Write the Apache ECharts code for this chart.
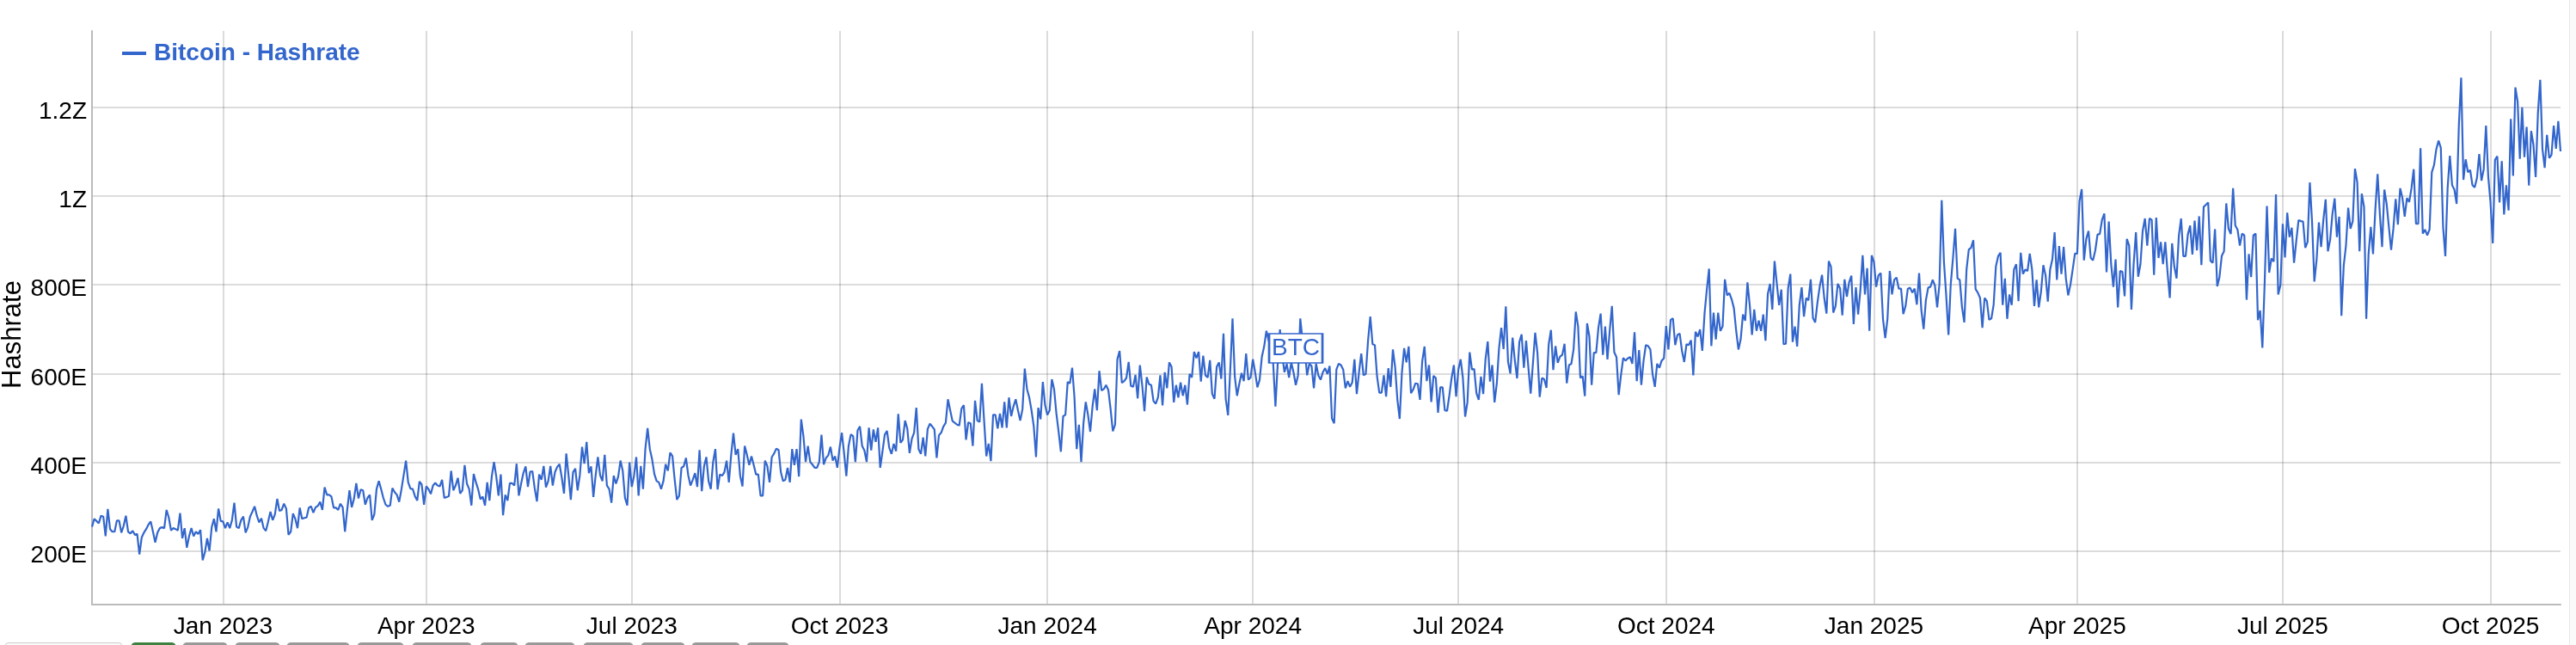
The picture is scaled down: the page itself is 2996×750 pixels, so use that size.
<!DOCTYPE html>
<html>
<head>
<meta charset="utf-8">
<title>Bitcoin - Hashrate</title>
<script src="https://cdn.jsdelivr.net/npm/echarts@6/dist/echarts.min.js"></script>
<style>html,body{margin:0;padding:0;background:#fff}#c{width:2996px;height:750px}</style>
</head>
<body>
<div id="c"></div>
<script>
// Daily hashrate in exahashes per second.
const startDay = '2022-11-04';
const nov2022toFeb2023 = [
255,273,268,263,280,278,234,295,250,244,
244,269,269,242,257,280,244,240,246,237,
239,193,231,242,250,260,267,244,220,242,
252,254,252,293,276,247,252,250,247,286,
229,252,208,234,252,234,244,239,248,180,
198,229,201,254,273,244,296,268,267,252,
265,252,270,309,255,252,270,278,242,254,
278,289,301,280,265,274,252,246,267,289,
270,283,318,291,293,307,296,237,244,285,
273,252,298,273,275,276,298,301,287,299,
302,311,293,344,327,327,323,298,298,293,
307,299,244,293,337,299,318,353,319,339,
337,305,320,327,270,283,340,358,340,320,
305,301,303,342,333,327,311,339,371,404,
355,341,340,324,314,357,350,305,346,340,
329,348,354,348,346,361,320];
const apr2023toSep2023 = [
322,324,381,337,348,365,330,337,394,352,
340,303,374,355,339,317,323,303,355,314,
368,401,368,325,373,281,327,314,353,353,
348,397,325,352,376,391,345,379,380,342,
312,373,361,392,344,358,392,348,378,390,
396,366,330,420,371,316,378,386,337,371,
435,397,446,376,391,322,371,412,371,358,
417,348,340,309,370,352,368,404,381,320,
303,400,345,370,412,325,392,340,430,477,
430,407,374,358,355,340,358,396,381,422,
414,361,316,325,388,391,410,371,348,361,
376,345,428,335,391,412,358,340,401,430,
339,373,370,378,404,355,417,466,417,430,
370,346,437,417,394,414,394,373,373,325,
325,404,392,355,412,420,431,428,378,358,
361,388,355,430,394,430,368];
const sep2023toFeb2024 = [
497,459,401,437,401,395,388,388,401,462,
395,410,416,435,404,414,388,433,467,421,
369,437,463,459,401,472,481,437,427,401,
478,427,474,446,478,388,424,462,471,433,
419,442,425,509,444,451,494,476,421,453,
467,523,430,419,456,414,475,487,481,474,
410,461,467,481,489,542,517,493,489,485,
483,521,529,451,490,488,437,539,494,491,
578,494,414,442,403,507,507,476,510,478,
536,478,546,504,526,542,517,494,520,611,
565,546,517,481,412,523,497,581,529,507,
517,587,565,510,469,424,504,507,581,578,
613,546,430,485,401,488,536,507,469,526,
565,517,606,562,565,574,563,520,470,485,
632,651,579,583,590,626,572,570,597,544,
619,574,515,592,576,574];
const feb2024toJul2024 = [
538,532,546,596,528,603,567,625,615,535,
574,546,580,550,574,530,599,591,649,635,
649,582,640,596,591,630,554,543,615,625,
588,690,543,506,609,724,593,550,577,601,
583,645,586,591,632,603,569,586,638,661,
696,674,661,622,526,622,699,641,603,622,
591,625,603,574,596,724,674,654,596,622,
617,567,622,596,586,603,612,599,617,499,
488,609,622,619,609,567,583,570,580,632,
554,603,645,596,599,674,728,666,664,593,
557,557,596,548,612,570,654,614,541,498,
603,657,625,661,556,564,578,577,541,628,
661,583,619,536,595,590,512,569,569,517,
516,551,590,619,548,609,632,590,503,535,
648,609,610,556,541,593,554,632,672,582,
619,535,577,657,703,655,751];
const jul2024toDec2024 = [
626,600,681,629,589,671,688,613,674,613,
555,622,692,647,547,590,587,568,666,698,
608,662,624,638,642,667,578,619,622,654,
739,706,590,594,549,713,683,574,647,647,
703,735,642,706,632,696,752,648,637,552,
597,635,629,634,637,622,693,583,653,574,
629,664,662,654,598,570,622,613,629,634,
707,654,721,724,664,687,690,651,626,666,
664,675,596,694,683,699,651,735,789,836,
662,737,677,737,696,706,812,776,781,767,
747,696,654,677,733,719,805,754,687,744,
696,719,696,733,674,779,802,744,853,802,
754,789,666,667,792,824,671,706,661,754,
794,728,770,765,812,725,715,760,796,822,
770,735,853,840,737,752,802,792,731,812,
773,805,820,711,794,733,788];
const dec2024toMay2025 = [
866,778,837,696,866,851,795,821,826,723,
680,723,831,778,811,816,791,791,734,752,
791,793,782,791,755,826,742,700,765,793,
795,811,798,749,801,990,851,775,687,801,
860,926,814,811,749,715,834,879,883,900,
790,782,770,703,770,763,721,724,755,841,
864,872,754,814,723,778,754,834,846,763,
872,824,834,831,870,834,752,811,749,785,
844,821,762,834,857,918,811,887,824,885,
814,776,800,834,870,870,988,1015,855,903,
921,860,855,877,913,914,946,960,828,942,
847,795,857,749,831,829,774,903,888,744,
847,918,818,846,921,949,888,949,946,822,
951,860,896,846,896,828,770,893,841,814,
910,949,864,864,913,933,868,944,877,954,
844,975,980,985,854];
const may2025toNov2025 = [
849,925,796,817,865,875,983,926,914,1017,
933,924,888,915,911,766,869,817,911,915,
720,742,658,804,977,827,859,852,1003,778,
799,937,861,962,907,928,849,898,945,943,
942,883,896,1030,940,807,856,940,885,946,
992,875,901,959,994,907,953,730,843,888,
973,926,943,1061,1030,875,1005,975,723,869,
930,869,969,1049,959,885,1014,982,930,878,
927,993,935,1017,995,953,995,986,1017,1060,
937,937,1107,915,924,911,924,1053,1069,1105,
1124,1108,930,864,1017,1090,1024,1014,982,1160,
1266,1036,1082,1053,1058,1024,1019,1040,1094,1034,
1060,1158,1043,985,893,1081,1089,985,1078,958,
1024,967,1173,1045,1244,1212,1083,1199,1087,1155,
1023,1146,1115,1042,1186,1261,1105,1063,1137,1085,
1092,1158,1106,1168,1100];
const hashrate = [].concat(nov2022toFeb2023, apr2023toSep2023, sep2023toFeb2024,
  feb2024toJul2024, jul2024toDec2024, dec2024toMay2025, may2025toNov2025);

const xTickDates = ['2023-01-01','2023-04-01','2023-07-01','2023-10-01','2024-01-01','2024-04-01','2024-07-01','2024-10-01','2025-01-01','2025-04-01','2025-07-01','2025-10-01'];
const xTickLabels = ['Jan 2023','Apr 2023','Jul 2023','Oct 2023','Jan 2024','Apr 2024','Jul 2024','Oct 2024','Jan 2025','Apr 2025','Jul 2025','Oct 2025'];
const yTicks = [200,400,600,800,1000,1200];
const yTickLabels = ['200E','400E','600E','800E','1Z','1.2Z'];
const seriesName = 'Bitcoin - Hashrate';
const axisName = 'Hashrate';
const noteDay = '2024-04-20';
const noteValue = 657;
const noteText = 'BTC';
const buttonWidths = [[6,136,'#fafafa','#cccccc'],[153,51,'#3d8040','#3d8040'],[213,51],[274,51],[334,72],[416,53],[480,68],[559,43],[611,57],[679,57],[746,50],[805,55],[869,48]];

const DAY = 86400000;
const t0 = Date.parse(startDay + 'T00:00:00Z');
const ts = s => Date.parse(s + 'T00:00:00Z');
const points = hashrate.map((v, i) => [t0 + i * DAY, v]);
const xTickValues = xTickDates.map(ts);
const FONT = '"Liberation Sans", Arial, sans-serif';
const BLUE = '#3366cc';

const chart = echarts.init(document.getElementById('c'), null, {renderer: 'canvas'});
chart.setOption({
  animation: false,
  backgroundColor: '#ffffff',
  textStyle: {fontFamily: FONT},
  grid: {left: 107, right: 18, top: 36, bottom: 47, containLabel: false, outerBoundsMode: 'none'},
  legend: {
    left: 142, top: 48, padding: 0,
    icon: 'rect', itemWidth: 28, itemHeight: 4,
    data: [seriesName],
    textStyle: {color: BLUE, fontWeight: 'bold', fontSize: 28, fontFamily: FONT, padding: [0, 0, 0, 4]}
  },
  xAxis: {
    type: 'value',
    scale: true,
    min: t0,
    max: t0 + (hashrate.length - 1) * DAY,
    axisLine: {show: true, onZero: false, lineStyle: {color: '#bbbbbb', width: 2}},
    axisTick: {show: false, customValues: xTickValues},
    splitLine: {show: true, lineStyle: {color: 'rgba(0,0,0,0.14)', width: 2}},
    axisLabel: {
      show: true,
      customValues: xTickValues,
      color: '#000000', fontSize: 28, fontFamily: FONT, margin: 12,
      hideOverlap: false,
      formatter: v => xTickLabels[xTickValues.indexOf(v)]
    }
  },
  yAxis: {
    type: 'value',
    min: 80,
    max: 1371,
    name: axisName,
    nameLocation: 'middle',
    nameGap: 76,
    nameRotate: 90,
    nameMoveOverlap: false,
    nameTextStyle: {color: '#000000', fontSize: 31, fontFamily: FONT, padding: [0, 39, 0, 0]},
    axisLine: {show: true, onZero: false, lineStyle: {color: '#bbbbbb', width: 2}},
    axisTick: {show: false, customValues: yTicks},
    splitLine: {show: true, lineStyle: {color: '#dcdcdc', width: 2}},
    axisLabel: {
      show: true,
      customValues: yTicks,
      color: '#000000', fontSize: 28, fontFamily: FONT, margin: 6,
      formatter: v => '{t|' + yTickLabels[yTicks.indexOf(v)] + '}',
      rich: {t: {color: '#000000', fontSize: 28, fontFamily: FONT, padding: [11, 0, 0, 0]}}
    }
  },
  series: [{
    name: seriesName,
    type: 'line',
    data: points,
    showSymbol: false,
    symbol: 'none',
    smooth: false,
    lineStyle: {color: BLUE, width: 2.2},
    itemStyle: {color: BLUE},
    z: 3,
    markPoint: {
      symbol: 'rect',
      symbolSize: [62, 34],
      silent: true,
      itemStyle: {color: '#ffffff', borderColor: BLUE, borderWidth: 2},
      label: {show: true, position: 'inside', color: BLUE, fontSize: 28, fontFamily: FONT, formatter: noteText},
      data: [{coord: [ts(noteDay), noteValue]}]
    }
  }],
  graphic: buttonWidths.map(b => ({
    type: 'rect', silent: true, z: 10,
    shape: {x: b[0], y: 747.5, width: b[1], height: 8, r: 6},
    style: {fill: b[2] || '#999999', stroke: b[3] || '#999999', lineWidth: 1}
  })).concat([{
    type: 'rect', silent: true, z: 10,
    shape: {x: 2988.5, y: -1, width: 9, height: 752},
    style: {fill: '#fafafa', stroke: '#eaeaea', lineWidth: 1}
  }])
});
</script>
</body>
</html>
